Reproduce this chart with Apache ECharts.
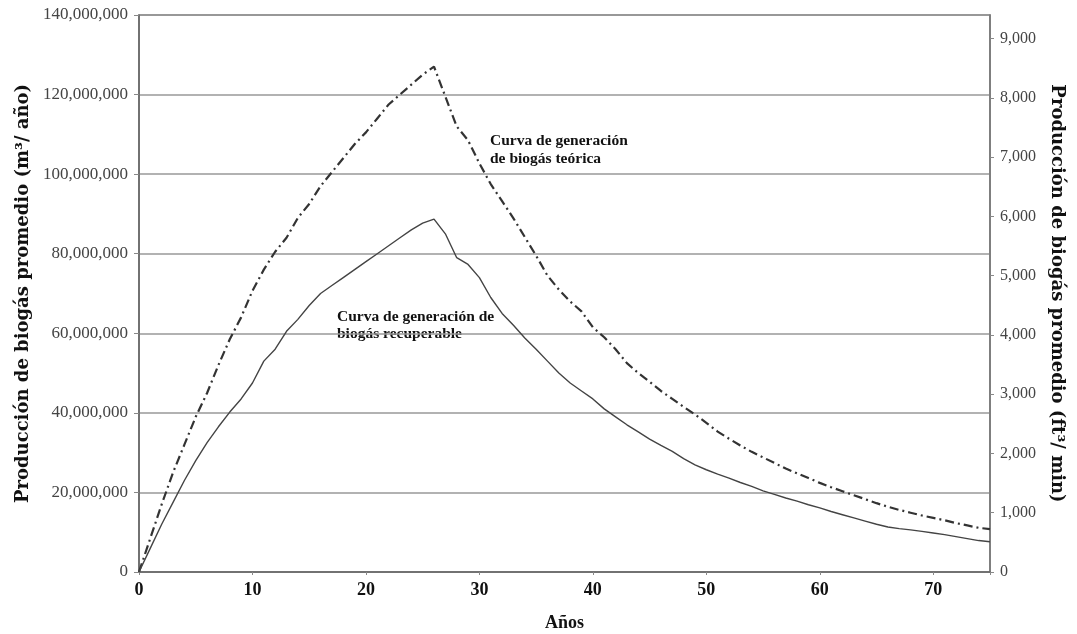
<!DOCTYPE html>
<html>
<head>
<meta charset="utf-8">
<script src="https://cdn.jsdelivr.net/npm/echarts@6/dist/echarts.min.js"></script>
<style>
html,body{margin:0;padding:0;background:#fff;}
#c{width:1077px;height:634px;}
</style>
</head>
<body>
<div id="c"></div>
<script>
// Years (x axis)
const years = [0,1,2,3,4,5,6,7,8,9,10,11,12,13,14,15,16,17,18,19,20,21,22,23,24,25,26,27,28,29,30,31,32,33,34,35,36,37,38,39,40,41,42,43,44,45,46,47,48,49,50,51,52,53,54,55,56,57,58,59,60,61,62,63,64,65,66,67,68,69,70,71,72,73,74,75];
// Theoretical biogas generation (millions m3/year)
const teorica = [0,8.5,17,25,32,39,45,52,58.5,64,70.7,76,80.5,84,89,92.5,97,100.5,104,107.5,110.5,114,117.5,120,122.5,125,127,119.5,112,108.5,102.7,97.5,93.2,88.9,84.2,79.5,74.5,71,68,65.5,61.5,59,56,52.5,50,47.8,45.5,43.5,41.5,39.6,37.5,35.3,33.5,31.8,30.2,28.8,27.4,26,24.8,23.6,22.4,21.3,20.3,19.3,18.3,17.3,16.4,15.6,14.9,14.2,13.6,13,12.3,11.7,11.1,10.8];
// Recoverable biogas generation (millions m3/year)
const recuperable = [0,6,12,17.5,23,28,32.5,36.5,40.2,43.5,47.5,53,56,60.5,63.5,67,70,72,74,76,78,80,82,84,86,87.7,88.7,85,79,77.3,74,69,65,62,58.8,56,53,50,47.5,45.5,43.5,41,39,37,35.2,33.4,31.8,30.3,28.5,26.9,25.7,24.6,23.6,22.5,21.5,20.4,19.5,18.6,17.8,16.9,16.1,15.2,14.4,13.6,12.8,12,11.3,10.9,10.6,10.2,9.8,9.4,8.9,8.4,7.9,7.6];
// Tick labels
const xTicks = [0,10,20,30,40,50,60,70];
const rightTicks = [0,1000,2000,3000,4000,5000,6000,7000,8000,9000];
const leftMax = 140000000;
const rightMax = 140000000 * 35.3147 / 525960; // ft3/min equivalent

const toPairs = (arr) => years.map((y, i) => [y, arr[i] * 1e6]);
const fmt = (v) => Math.round(v).toLocaleString('en-US');

const serif = '"Liberation Serif", "DejaVu Serif", serif';
const serifWide = '"DejaVu Serif", "Liberation Serif", serif';
const chart = echarts.init(document.getElementById('c'));
chart.setOption({
  backgroundColor: '#fff',
  animation: false,
  grid: { left: 139, right: 87, top: 15, bottom: 62, outerBoundsMode: 'none', containLabel: false, show: true, borderColor: '#777', borderWidth: 1.5 },
  xAxis: {
    type: 'value', min: 0, max: 75, interval: 10,
    name: 'Años', nameLocation: 'middle', nameGap: 42,
    nameTextStyle: { fontFamily: serif, fontWeight: 'bold', fontSize: 18, color: '#111' },
    axisLine: { lineStyle: { color: '#666', width: 1.5 } },
    axisTick: { show: true, length: 3, lineStyle: { color: '#888' } },
    axisLabel: {
      fontFamily: serif, fontWeight: 'bold', fontSize: 18, color: '#111', margin: 9,
      customValues: xTicks, formatter: (v) => String(v)
    },
    splitLine: { show: false }
  },
  yAxis: [
    {
      type: 'value', min: 0, max: leftMax, interval: 20000000, position: 'left',
      name: 'Producción de biogás promedio (m³/ año)', nameLocation: 'middle', nameGap: 107,
      nameTextStyle: { fontFamily: serifWide, fontWeight: 'bold', fontSize: 18, color: '#111' },
      axisLine: { show: true, lineStyle: { color: '#666', width: 1.5 } },
      axisTick: { show: true, length: 5, lineStyle: { color: '#888' } },
      axisLabel: { fontFamily: serif, fontSize: 17, color: '#444', margin: 11, formatter: fmt },
      splitLine: { show: true, lineStyle: { color: '#999', width: 1.5 } }
    },
    {
      type: 'value', min: 0, max: rightMax, position: 'right',
      name: 'Producción de biogás promedio (ft³/ min)', nameLocation: 'middle', nameGap: 58, nameRotate: -90,
      nameTextStyle: { fontFamily: serifWide, fontWeight: 'bold', fontSize: 18, color: '#111' },
      axisLine: { show: true, lineStyle: { color: '#777', width: 1.5 } },
      axisTick: { show: true, length: 4, customValues: rightTicks, lineStyle: { color: '#888' } },
      axisLabel: { fontFamily: serif, fontSize: 16, color: '#444', margin: 10, customValues: rightTicks, formatter: fmt },
      splitLine: { show: false }
    }
  ],
  series: [
    {
      name: 'Curva de generación de biogás teórica', type: 'line', yAxisIndex: 0,
      data: toPairs(teorica), showSymbol: false, smooth: false,
      lineStyle: { color: '#333', width: 2.2, type: [9, 4, 2, 4] }
    },
    {
      name: 'Curva de generación de biogás recuperable', type: 'line', yAxisIndex: 0,
      data: toPairs(recuperable), showSymbol: false, smooth: false,
      lineStyle: { color: '#444', width: 1.4, type: 'solid' }
    }
  ],
  graphic: [
    {
      type: 'text', left: 490, top: 132,
      style: { text: 'Curva de generación\nde biogás teórica', fontFamily: serif, fontWeight: 'bold', fontSize: 15.5, lineHeight: 18, fill: '#111' }
    },
    {
      type: 'text', left: 337, top: 308,
      style: { text: 'Curva de generación de\nbiogás recuperable', fontFamily: serif, fontWeight: 'bold', fontSize: 15.5, lineHeight: 17, fill: '#111' }
    }
  ]
});
</script>
</body>
</html>
